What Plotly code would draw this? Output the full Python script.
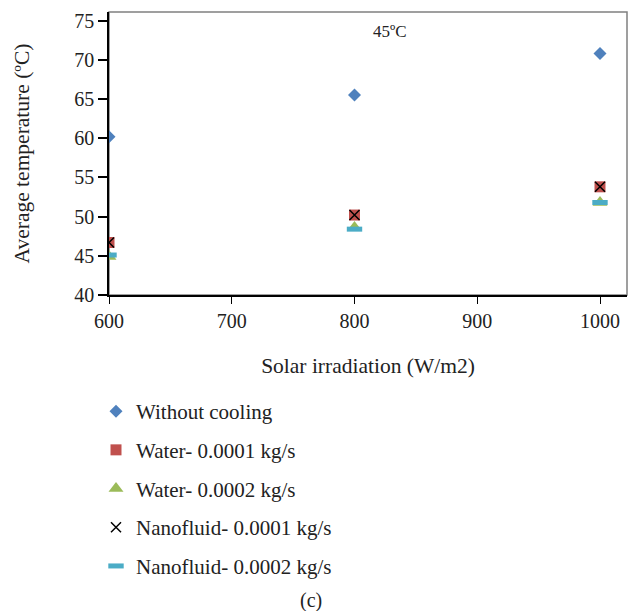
import plotly.graph_objects as go

irradiation = [600, 800, 1000]
without_cooling = [60.2, 65.5, 70.8]
water_1 = [46.7, 50.2, 53.8]
water_2 = [44.9, 48.6, 51.8]
nano_1 = [46.7, 50.2, 53.8]
nano_2 = [45.1, 48.4, 51.8]

x_ticks = [600, 700, 800, 900, 1000]
y_ticks = [40, 45, 50, 55, 60, 65, 70, 75]

FONT = "Liberation Serif"
W, H = 629, 611
L, R, T, B = 109, 627, 12, 295  # plot area in pixels

fig = go.Figure()
series = [
    ("Without cooling", without_cooling, dict(symbol="diamond", size=10, color="#4F81BD")),
    ("Water- 0.0001 kg/s", water_1, dict(symbol="square", size=11, color="#C0504D")),
    ("Water- 0.0002 kg/s", water_2, dict(symbol="triangle-up", size=13, color="#9BBB59")),
    ("Nanofluid- 0.0001 kg/s", nano_1, dict(symbol="x-thin", size=10, color="#000000",
                                             line=dict(color="#000000", width=1.5))),
    ("Nanofluid- 0.0002 kg/s", nano_2, dict(symbol="line-ew", size=11, color="#4BACC6",
                                             line=dict(color="#4BACC6", width=5))),
]
for i, (name, vals, mk) in enumerate(series):
    fig.add_trace(go.Scatter(x=irradiation, y=vals, mode="markers", name=name,
                             marker=mk, legendgroup=f"g{i}"))

fig.add_shape(type="rect", xref="x domain", yref="y domain", x0=0, x1=1, y0=0, y1=1,
              line=dict(color="#808080", width=1.5), layer="below")

fig.add_annotation(text="45ºC", x=390 / W, y=1 - 31 / H, xref="paper", yref="paper",
                   xanchor="center", yanchor="middle",
                   showarrow=False, font=dict(family=FONT, size=17, color="#222"))
fig.add_annotation(text="(c)", x=311 / W, y=1 - 600 / H, xref="paper", yref="paper",
                   xanchor="center", yanchor="middle",
                   showarrow=False, font=dict(family=FONT, size=20, color="#222"))

fig.update_layout(
    width=W, height=H,
    margin=dict(l=0, r=0, t=0, b=0),
    paper_bgcolor="white", plot_bgcolor="white",
    font=dict(family=FONT, size=20, color="#222"),
    showlegend=True,
    legend=dict(x=96 / W, xanchor="left", y=1 - 391 / H, yanchor="top",
                tracegroupgap=8.4, font=dict(family=FONT, size=21, color="#222"),
                bgcolor="rgba(0,0,0,0)"),
    xaxis=dict(domain=[L / W, R / W], range=[600, 1022], tickvals=x_ticks,
               showgrid=False, zeroline=False, automargin=False,
               showline=True, linecolor="black", linewidth=1.5,
               ticks="outside", ticklen=7, tickcolor="black",
               tickfont=dict(family=FONT, size=20, color="#222"),
               title=dict(text="Solar irradiation (W/m2)", standoff=27,
                          font=dict(family=FONT, size=21.5, color="#222"))),
    yaxis=dict(domain=[1 - B / H, 1 - T / H], range=[40, 76.1], tickvals=y_ticks,
               showgrid=False, zeroline=False, automargin=False,
               showline=True, linecolor="black", linewidth=1.5,
               ticks="outside", ticklen=9, tickwidth=1.5, tickcolor="black",
               ticksuffix="\u2002",
               tickfont=dict(family=FONT, size=20, color="#222"),
               title=dict(text="Average temperature (ºC)", standoff=39,
                          font=dict(family=FONT, size=21.5, color="#222"))),
)

fig.write_html("out.html", config={"displayModeBar": False},
               post_script="document.body.style.margin='0';document.body.style.overflow='hidden';")
